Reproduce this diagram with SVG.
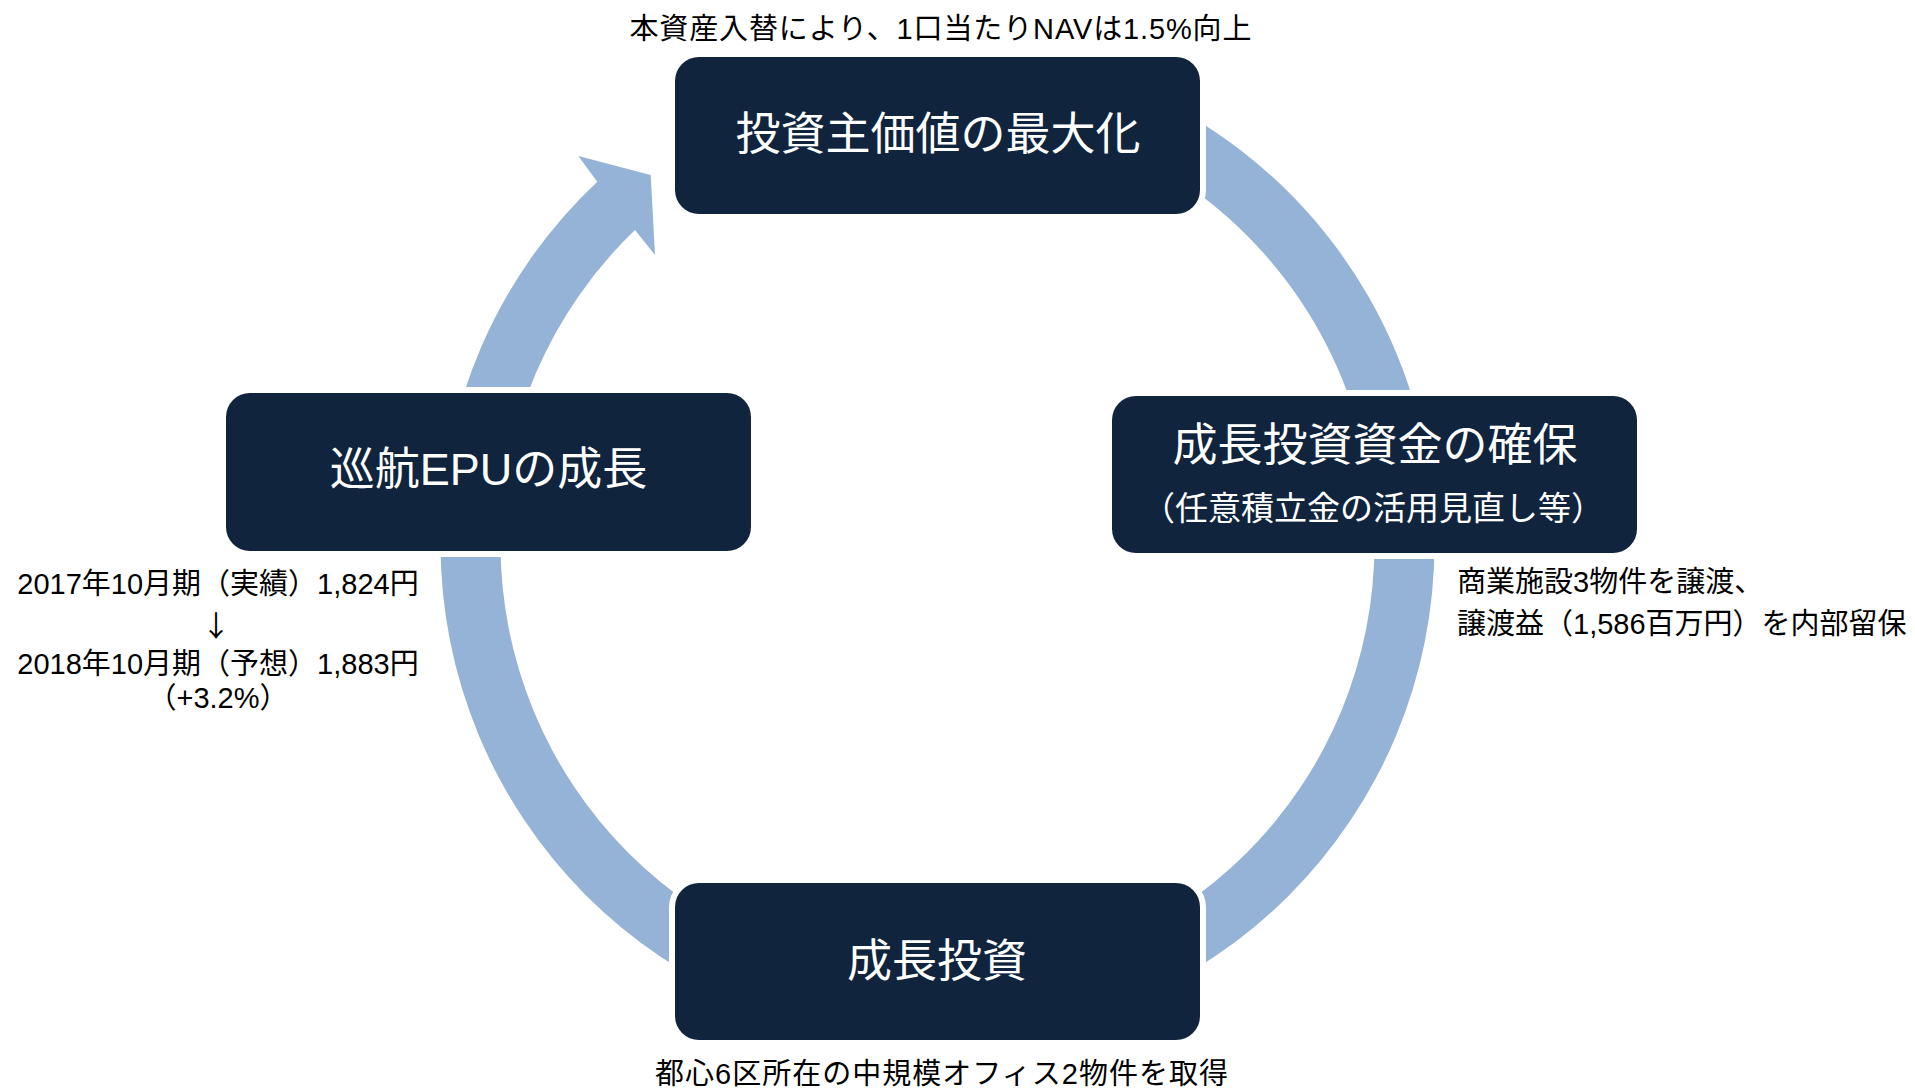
<svg xmlns="http://www.w3.org/2000/svg" width="1915" height="1091" viewBox="0 0 1915 1091">
  <style>
    .ring { fill: #95B3D7; }
    .halo { fill: #FFFFFF; }
    .node { fill: #10243E; }
    .title { font-family: "Liberation Sans", "Noto Sans CJK JP", sans-serif; font-size: 45px; fill: #FFFFFF; text-anchor: middle; }
    .sub { font-family: "Liberation Sans", "Noto Sans CJK JP", sans-serif; font-size: 33px; fill: #FFFFFF; text-anchor: middle; }
    .note { font-family: "Liberation Sans", "Noto Sans CJK JP", sans-serif; font-size: 29px; fill: #000000; }
    .mid { text-anchor: middle; }
    .arrow { font-family: "Noto Sans CJK JP", sans-serif; }
  </style>
  <rect x="0" y="0" width="1915" height="1091" fill="#FFFFFF"/>
  <g id="connectors">
    <path id="arc-top-right" class="ring" d="M 1190 115.9 A 497 497 0 0 1 1434.5 544 L 1374.5 544 A 437 437 0 0 0 1159.5 167.6 Z"/>
    <path id="arc-right-bottom" class="ring" d="M 1434.5 544 A 497 497 0 0 1 937.5 1041 L 937.5 981 A 437 437 0 0 0 1374.5 544 Z"/>
    <path id="arc-bottom-left" class="ring" d="M 937.5 1041 A 497 497 0 0 1 440.5 544 L 500.5 544 A 437 437 0 0 0 937.5 981 Z"/>
    <path id="arc-left-top" class="ring" d="M 440.5 544 A 497 497 0 0 1 597.3 181.7 L 578.3 156 L 650.7 175 L 655 255 L 635 230 A 437 437 0 0 0 500.5 544 Z"/>
  </g>
  <g id="node-top">
    <rect class="halo" x="669" y="51" width="537" height="169" rx="30"/>
    <rect class="node" x="675" y="57" width="525" height="157" rx="24"/>
    <text class="title" x="938" y="150">投資主価値の最大化</text>
  </g>
  <g id="node-right">
    <rect class="halo" x="1106" y="390" width="537" height="169" rx="30"/>
    <rect class="node" x="1112" y="396" width="525" height="157" rx="24"/>
    <text class="title" x="1375" y="461">成長投資資金の確保</text>
    <text class="sub" x="1373" y="520">（任意積立金の活用見直し等）</text>
  </g>
  <g id="node-bottom">
    <rect class="halo" x="669" y="877" width="537" height="169" rx="30"/>
    <rect class="node" x="675" y="883" width="525" height="157" rx="24"/>
    <text class="title" x="937" y="977">成長投資</text>
  </g>
  <g id="node-left">
    <rect class="halo" x="220" y="387" width="537" height="170" rx="30"/>
    <rect class="node" x="226" y="393" width="525" height="158" rx="24"/>
    <text class="title" x="488.5" y="485">巡航EPUの成長</text>
  </g>
  <g id="annotations">
    <text class="note mid" x="940.5" y="39" textLength="622" lengthAdjust="spacing">本資産入替により、1口当たりNAVは1.5%向上</text>
    <text class="note" x="1457" y="592">商業施設3物件を譲渡、</text>
    <text class="note" x="1457" y="634">譲渡益（1,586百万円）を内部留保</text>
    <text class="note mid" x="941.5" y="1084" textLength="573" lengthAdjust="spacing">都心6区所在の中規模オフィス2物件を取得</text>
    <text class="note mid" x="218" y="594">2017年10月期（実績）1,824円</text>
    <text class="note mid arrow" x="216" y="637">↓</text>
    <text class="note mid" x="218" y="674">2018年10月期（予想）1,883円</text>
    <text class="note mid" x="218" y="708">（+3.2%）</text>
  </g>
</svg>
